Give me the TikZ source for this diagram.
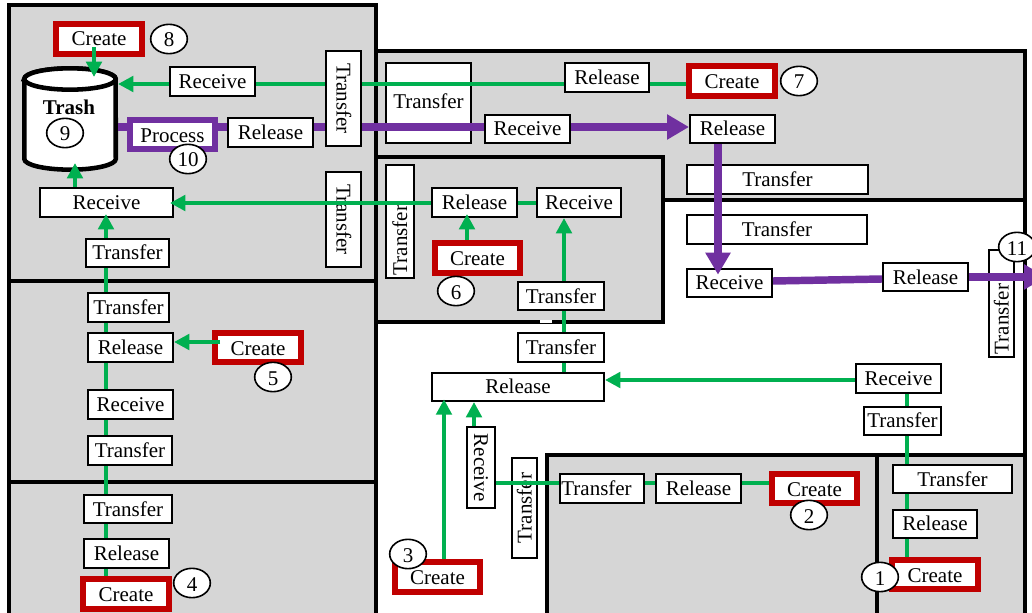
\documentclass[tikz,border=0pt]{standalone}
\usepackage{fontspec}
\setmainfont{Liberation Serif}
\usetikzlibrary{shapes.geometric,arrows.meta}
\definecolor{pgray}{HTML}{D6D6D6}
\definecolor{lgreen}{HTML}{00B050}
\definecolor{lpurple}{HTML}{7030A0}
\definecolor{lred}{HTML}{C00000}
\tikzset{
  panel/.style={draw=black,fill=pgray,line width=3pt},
  boxbase/.style={draw=black,fill=white,line width=1.4pt,inner sep=0pt,text height=10.5pt,text depth=0pt,
    font=\fontsize{15.75}{18}\selectfont},
  redbox/.style={boxbase,draw=lred,line width=4.5pt},
  purplebox/.style={boxbase,draw=lpurple,line width=4.5pt},
  num/.style={shape=ellipse,draw=black,fill=white,line width=1.2pt,inner sep=0pt,
    minimum width=27.5pt,minimum height=22pt,text height=12pt,text depth=0pt,font=\fontsize{15.75}{18}\selectfont},
  gline/.style={draw=lgreen,line width=3pt},
  garrow/.style={gline,-{Triangle[length=11.5pt,width=11.5pt]}},
  pline/.style={draw=lpurple,line width=5.6pt},
  parrow/.style={pline,-{Triangle[length=16.5pt,width=18pt]}},
}
\newcommand{\hbx}[7][boxbase]{%
  \node[#1,minimum width={(#5-#3)*0.75pt-1.4pt},minimum height={(#6-#4)*0.75pt-1.4pt}] (#2) at ({(#3+#5)/2},{(#4+#6)/2}) {#7};}
\newcommand{\pbx}[6]{%
  \node[purplebox,minimum width={(#4-#2)*0.75pt-4.5pt},minimum height={(#5-#3)*0.75pt-4.5pt}] (#1) at ({(#2+#4)/2},{(#3+#5)/2}) {#6};}
\newcommand{\rdx}[6]{%
  \node[redbox,minimum width={(#4-#2)*0.75pt-4.5pt},minimum height={(#5-#3)*0.75pt-4.5pt}] (#1) at ({(#2+#4)/2},{(#3+#5)/2}) {#6};}
\newcommand{\vbx}[7]{% name, angle, x1,y1,x2,y2, text
  \node[boxbase,rotate=#2,minimum width={(#6-#4)*0.75pt-1.4pt},minimum height={(#5-#3)*0.75pt-1.4pt}] (#1) at ({(#3+#5)/2},{(#4+#6)/2}) {#7};}
\newcommand{\tx}[2]{\mbox{\kern#1pt\makebox[0pt]{#2}\kern-#1pt}}
\newcommand{\up}[1]{\raisebox{.75pt}{#1}}
\newcommand{\dn}[1]{\raisebox{-.75pt}{#1}}
\begin{document}
\begin{tikzpicture}[x=0.75pt,y=-0.75pt]
\useasboundingbox (0,0) rectangle (1032,613);
\clip (0,0) rectangle (1032,613);
\fill[white] (0,0) rectangle (1032,613);
% panels
\draw[panel] (9,5) rectangle (376,281);
\draw[panel] (9,281) rectangle (376,482);
\draw[panel] (9,482) rectangle (376,630);
\draw[panel] (376,51) rectangle (1025,200);
\draw[panel] (376,157) rectangle (663,322);
\draw[panel] (547,455) rectangle (877,630);
\draw[panel] (877,455) rectangle (1025,630);
\draw[line width=3pt] (1025,200) -- (1025,455);
\draw[line width=3pt] (376,322) -- (376,482);
\fill[white] (540,320) rectangle (552,323);
% cylinder
\node[minimum width=72pt,minimum height=79.5pt,inner sep=0pt,outer sep=0pt] (trash) at (70,119) {};
\draw[line width=3.4pt,fill=white] (24.3,79) -- (24.3,159) arc[start angle=180,end angle=360,x radius=34.3pt,y radius=8pt]
  -- (115.7,79) arc[start angle=0,end angle=180,x radius=34.3pt,y radius=8pt] -- cycle;
\draw[line width=3.4pt,fill=white] (70,79) ellipse[x radius=34.3pt,y radius=8pt];
\node[font=\fontsize{15.75}{18}\selectfont\bfseries,inner sep=0pt] (trashtext) at (69,107) {Trash};
% wide boxes that connectors run across
\hbx{tbig}{385}{62}{472}{144}{\raisebox{.8pt}{Transfer}}
\vbx{tvd}{90}{385}{164}{415}{279}{\tx{-13.9}{Transfer}}
\vbx{tvf}{90}{511}{457}{538}{559}{Transfer}
\vbx{tvk}{90}{988}{249}{1015}{358}{\tx{-11.6}{Transfer}}
% top-left
\rdx{c8}{53}{21}{145}{57}{Create}
\hbx{ra}{169}{66}{256}{97}{Receive}
\vbx{tva}{-90}{325}{50}{362}{147}{Transfer}
\vbx{tvb}{-90}{325}{171}{362}{268}{Transfer}
\pbx{proc}{127}{117}{218}{152}{\dn{Process}}
\hbx{relp}{227}{117}{314}{148}{Release}
\hbx{rb}{39}{187}{174}{218}{Receive}
\hbx{ta}{85}{238}{170}{268}{\up{Transfer}}
% mid-left
\hbx{tc}{87}{292}{170}{323}{Transfer}
\hbx{rel5}{87}{332}{174}{363}{Release}
\rdx{c5}{212}{330}{304}{365}{\dn{Create}}
\hbx{rcl}{87}{389}{174}{420}{Receive}
\hbx{td}{87}{435}{173}{466}{Transfer}
% bottom-left
\hbx{te}{83}{494}{173}{524}{Transfer}
\hbx{rel4}{83}{538}{170}{569}{Release}
\rdx{c4}{80}{576}{172}{612}{Create}
% top band
\hbx{rel7}{564}{62}{650}{93}{Release}
\rdx{c7}{686}{63}{778}{99}{\dn{Create}}
\hbx{rcp}{484}{114}{571}{144}{Receive}
\hbx{relq}{689}{114}{776}{144}{Release}
\hbx{tf}{686}{164}{869}{195}{Transfer}
% right white
\hbx{tg}{686}{214}{868}{245}{Transfer}
\hbx{rcq}{686}{268}{773}{298}{\up{Receive}}
\hbx{relr}{882}{262}{969}{292}{Release}
% nested panel
\hbx{rel6}{431}{187}{518}{218}{Release}
\hbx{rc6}{536}{187}{622}{218}{Receive}
\rdx{c6}{432}{240}{523}{276}{Create}
\hbx{th}{517}{281}{605}{311}{Transfer}
% centre
\hbx{ti}{517}{332}{605}{363}{Transfer}
\hbx{relb}{431}{372}{605}{402}{\up{Release}}
\vbx{rcv}{-90}{466}{426}{496}{509}{Receive}
\rdx{c3}{392}{559}{483}{595}{Create}
\hbx{tj}{559}{473}{645}{504}{\tx{-4.1}{Transfer}}
\hbx{rel2}{655}{473}{742}{504}{Release}
\rdx{c2}{769}{471}{860}{506}{\dn{Create}}
% right
\hbx{rcr}{855}{363}{942}{394}{Receive}
\hbx{tk}{863}{406}{942}{436}{\up{Transfer}}
\hbx{tl}{892}{464}{1013}{494}{Transfer}
\hbx{rel1}{892}{509}{978}{539}{\up{Release}}
\rdx{c1}{889}{557}{981}{592}{\dn{Create}}
% guide coordinates
\coordinate (xa) at (106,0); \coordinate (xb) at (75,0); \coordinate (xc) at (94,0);
\coordinate (xd) at (564,0); \coordinate (xe) at (907,0); \coordinate (xf) at (467,0);
\coordinate (xg) at (444,0); \coordinate (xh) at (474,0); \coordinate (xi) at (718,0);
\coordinate (ya) at (0,84); \coordinate (yb) at (0,127); \coordinate (yc) at (0,203);
\coordinate (yd) at (0,342); \coordinate (ye) at (0,380); \coordinate (yf) at (0,483);
\coordinate (yg) at (0,281); \coordinate (yh) at (0,279); \coordinate (yi) at (0,277);
\coordinate (off) at (1046,277);
% green connectors
\draw[garrow,shorten <=-7.5pt,shorten >=-8.25pt] (c8.south -| xc) -- (trash.north -| xc);
\draw[garrow] (ra.west |- ya) -- (trash.east |- ya);
\draw[gline] (tva.south |- ya) -- (ra.east |- ya);
\draw[gline] (rel7.west |- ya) -- (tva.north |- ya);
\draw[gline] (c7.west |- ya) -- (rel7.east |- ya);
\draw[garrow,shorten >=-6.75pt] (rb.north -| xb) -- (trash.south -| xb);
\draw[garrow,shorten >=-3pt] (ta.north -| xa) -- (rb.south -| xa);
\draw[gline] (tc.north -| xa) -- (ta.south -| xa);
\draw[gline] (rel5.north -| xa) -- (tc.south -| xa);
\draw[garrow,shorten <=-6pt] (c5.west |- yd) -- (rel5.east |- yd);
\draw[gline] (rcl.north -| xa) -- (rel5.south -| xa);
\draw[gline] (td.north -| xa) -- (rcl.south -| xa);
\draw[gline] (te.north -| xa) -- (td.south -| xa);
\draw[gline] (rel4.north -| xa) -- (te.south -| xa);
\draw[gline] (c4.north -| xa) -- (rel4.south -| xa);
\draw[garrow,shorten >=-3pt] (rel6.west |- yc) -- (rb.east |- yc);
\draw[gline] (rel6.east |- yc) -- (rc6.west |- yc);
\draw[garrow,shorten >=-3pt] (c6.north -| xf) -- (rel6.south -| xf);
\draw[garrow] (th.north -| xd) -- (rc6.south -| xd);
\draw[gline] (ti.north -| xd) -- (th.south -| xd);
\draw[gline] (relb.north -| xd) -- (ti.south -| xd);
\draw[garrow] (rcr.west |- ye) -- (relb.east |- ye);
\draw[gline] (tk.north -| xe) -- (rcr.south -| xe);
\draw[gline] (tl.north -| xe) -- (tk.south -| xe);
\draw[gline] (rel1.north -| xe) -- (tl.south -| xe);
\draw[gline] (c1.north -| xe) -- (rel1.south -| xe);
\draw[garrow,shorten >=-2pt] (c3.north -| xg) -- (relb.south -| xg);
\draw[garrow] (rcv.west -| xh) -- (relb.south -| xh);
\draw[gline] (tj.west |- yf) -- (rcv.north |- yf);
\draw[gline] (rel2.west |- yf) -- (tj.east |- yf);
\draw[gline] (c2.west |- yf) -- (rel2.east |- yf);
% purple connectors
\draw[pline] (proc.west |- yb) -- (trash.east |- yb);
\draw[pline] (proc.east |- yb) -- (relp.west |- yb);
\draw[pline] (relp.east |- yb) -- (tva.south |- yb);
\draw[pline] (tva.north |- yb) -- (rcp.west |- yb);
\draw[parrow] (rcp.east |- yb) -- (relq.west |- yb);
\draw[parrow,shorten >=-5pt] (relq.south -| xi) -- (rcq.north -| xi);
\draw[pline] (rcq.east |- yg) -- (relr.west |- yh);
\draw[parrow] (relr.east |- yi) -- (off);
% number circles
\node[num] (n1) at (880,577) {1};
\node[num] (n2) at (809,515) {2};
\node[num] (n3) at (408,554) {3};
\node[num] (n4) at (192,583) {4};
\node[num] (n5) at (273,377) {5};
\node[num] (n6) at (456,291) {6};
\node[num] (n7) at (799,81) {7};
\node[num] (n8) at (169,39) {8};
\node[num] (n9) at (65,133) {9};
\node[num] (n10) at (188,159) {10};
\node[num] (n11) at (1017,247) {11};
\end{tikzpicture}
\end{document}
